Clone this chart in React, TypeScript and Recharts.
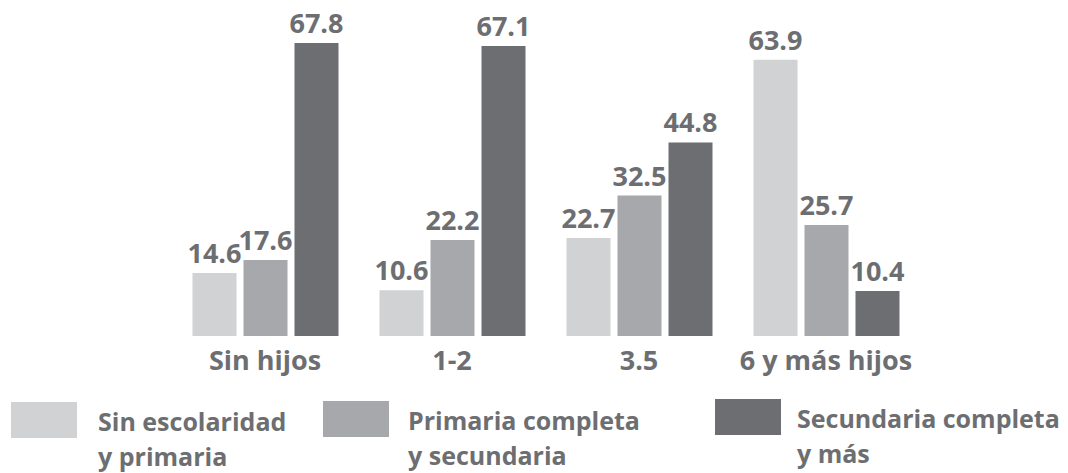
import * as React from 'react';
import { Bar, BarChart, LabelList, XAxis, YAxis } from 'recharts';

const categories = ['Sin hijos', '1-2', '3.5', '6 y más hijos'];
const sinEscolaridad = [14.6, 10.6, 22.7, 63.9];
const primariaCompleta = [17.6, 22.2, 32.5, 25.7];
const secundariaCompleta = [67.8, 67.1, 44.8, 10.4];

const seriesNames = [
  ['Sin escolaridad', 'y primaria'],
  ['Primaria completa', 'y secundaria'],
  ['Secundaria completa', 'y más'],
];

const COLORS = ['#d1d2d4', '#a7a8ab', '#6d6e71'];
const TEXT = '#6d6e71';
const FONT = '"Open Sans", sans-serif';

const data = categories.map((name, i) => ({
  name,
  sin: sinEscolaridad[i],
  primaria: primariaCompleta[i],
  secundaria: secundariaCompleta[i],
}));

const fmt = (v: any) => Number(v).toFixed(1);

// legend swatch / text placement
const legendPos = [
  { box: 11, text: 98, top: 402 },
  { box: 323, text: 408, top: 401 },
  { box: 715, text: 797, top: 399 },
];

function Legend() {
  return (
    <>
      {seriesNames.map((lines, i) => (
        <React.Fragment key={i}>
          <div
            style={{
              position: 'absolute',
              left: legendPos[i].box,
              top: legendPos[i].top,
              width: 66,
              height: 36,
              background: COLORS[i],
            }}
          />
          <div
            style={{
              position: 'absolute',
              left: legendPos[i].text,
              top: legendPos[i].top + 2,
              fontFamily: FONT,
              fontWeight: 700,
              fontSize: 25,
              lineHeight: '35px',
              color: TEXT,
              whiteSpace: 'nowrap',
            }}
          >
            {lines[0]}
            <br />
            {lines[1]}
          </div>
        </React.Fragment>
      ))}
    </>
  );
}

export default function App() {
  const keys = ['sin', 'primaria', 'secundaria'];
  return (
    <div style={{ position: 'absolute', left: 0, top: 0, width: 1068, height: 473, background: '#fff' }}>
      <BarChart
        width={1068}
        height={473}
        data={data}
        margin={{ top: 33.5, right: 148.5, bottom: 107, left: 171.5 }}
        barCategoryGap={20}
        barGap={7}
      >
        <XAxis
          dataKey="name"
          axisLine={false}
          tickLine={false}
          tickMargin={9}
          interval={0}
          tick={{ fill: TEXT, fontSize: 27, fontWeight: 700, fontFamily: FONT }}
        />
        <YAxis hide domain={[0, 70]} />
        {keys.map((k, i) => (
          <Bar key={k} dataKey={k} fill={COLORS[i]} barSize={44} isAnimationActive={false}>
            <LabelList
              dataKey={k}
              position="top"
              offset={10}
              formatter={fmt}
              style={{ fill: TEXT, fontSize: 27, fontWeight: 700, fontFamily: FONT }}
            />
          </Bar>
        ))}
      </BarChart>
      <Legend />
    </div>
  );
}
